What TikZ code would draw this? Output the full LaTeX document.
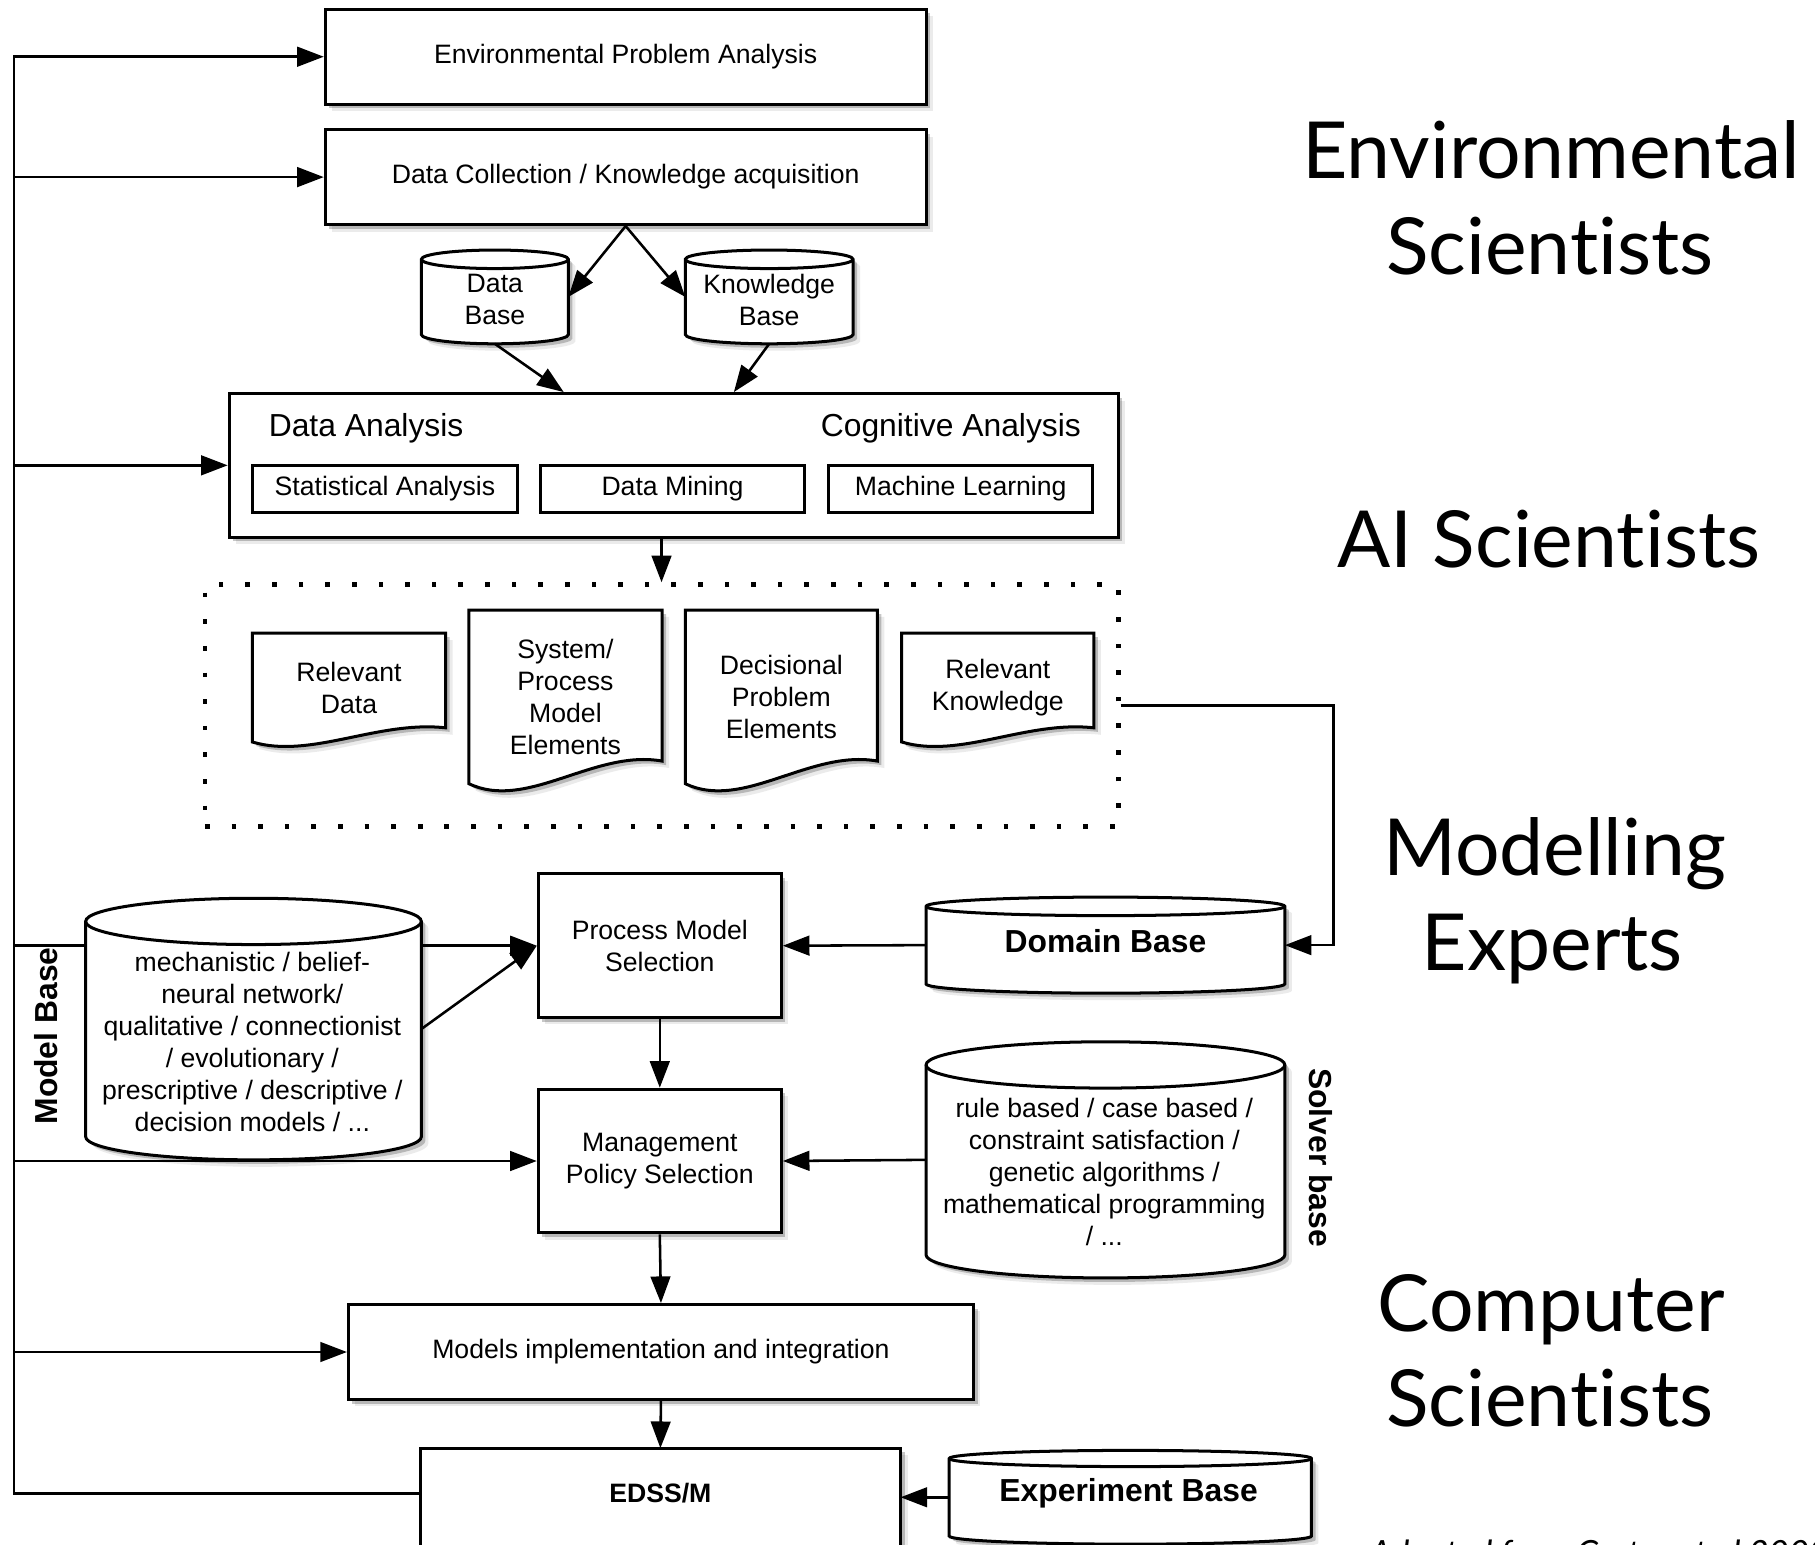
\documentclass[tikz,border=0pt]{standalone}
\usepackage{fontspec}
\setmainfont{Liberation Sans}
\newfontfamily\gill[Ligatures=NoCommon]{Lato}
\usetikzlibrary{arrows.meta,shadows,calc}
\pgfdeclarelayer{wires}
\pgfdeclarelayer{shapes}
\pgfsetlayers{wires,shapes,main}

\tikzset{
  softshadow/.style={
    drop shadow={shadow xshift=6pt,shadow yshift=-6pt,fill=black,opacity=0.08},
    drop shadow={shadow xshift=3.5pt,shadow yshift=-3.5pt,fill=black,opacity=0.22}},
  txt/.style={inner sep=0pt, align=center, font=\fontsize{23}{27.6}\selectfont},
  bigtxt/.style={inner sep=0pt, font=\fontsize{27.5}{33}\selectfont},
  boldtxt/.style={inner sep=0pt, align=center, font=\bfseries\fontsize{27.5}{33}\selectfont},
  box/.style={txt, draw, line width=2.6pt, fill=white, softshadow},
  subbox/.style={txt, draw, line width=2.3pt, fill=white},
  area/.style={txt, outer sep=0pt},
  shapeline/.style={draw, line width=2.6pt, fill=white, softshadow},
  conn/.style={line width=2.2pt},
  arr/.style={conn, -{Triangle[length=23pt,width=17pt]}},
  dotbox/.style={draw, line width=4pt, dash pattern=on 4pt off 19pt, inner sep=0pt},
  rolelabel/.style={inner sep=0pt, anchor=base, font=\gill\fontsize{68}{80}\selectfont},
}

% cylinder drawn over the area of a named node; #2 = half height of the end ellipse
\newcommand\drum[2]{%
  \begin{pgfonlayer}{shapes}
  \path[shapeline] let \p1=(#1.north west), \p2=(#1.south east), \n1={(\x2-\x1)/2} in
    (\x1,{\y1-#2}) -- (\x1,{\y2+#2})
    arc[start angle=180, end angle=360, x radius=\n1, y radius=#2]
    -- (\x2,{\y1-#2})
    arc[start angle=0, end angle=180, x radius=\n1, y radius=#2] -- cycle;
  \draw[line width=2.6pt] let \p1=(#1.north west), \p2=(#1.south east), \n1={(\x2-\x1)/2} in
    (\x1,{\y1-#2}) arc[start angle=180, end angle=360, x radius=\n1, y radius=#2];
  \end{pgfonlayer}}

% document sheet with a wavy lower edge over the area of a named node
\newcommand\docshape[1]{%
  \begin{pgfonlayer}{shapes}
  \path[shapeline] let \p1=(#1.north west), \p2=(#1.south east), \n1={\x2-\x1}, \n2={\y1-\y2} in
    (\x1,\y2) -- (\x1,\y1) -- (\x2,\y1) -- (\x2,{\y2+0.13*\n2})
    .. controls ({\x1+0.65*\n1},{\y2+0.2*\n2}) and ({\x1+0.3*\n1},{\y2-0.16*\n2}) .. (\x1,\y2) -- cycle;
  \end{pgfonlayer}}

\begin{document}
\begin{tikzpicture}[x=1pt,y=1pt]
\useasboundingbox (0,0) rectangle (1568,-1334);

% ---- problem analysis and data collection
\node[box, minimum width=519pt, minimum height=82pt] (epa) at (540.5,-49) {Environmental Problem Analysis};
\node[box, minimum width=519pt, minimum height=82pt] (dc) at (540.5,-153) {Data Collection / Knowledge acquisition};

\node[area, minimum width=127pt, minimum height=81pt] (db) at (427.5,-256.5) {};
\drum{db}{8pt}
\node[txt] (dbt) at (427.5,-259) {Data\\Base};
\node[area, minimum width=145pt, minimum height=81pt] (kb) at (664.5,-256.5) {};
\drum{kb}{8pt}
\node[txt] (kbt) at (664.5,-259) {Knowledge\\Base};

% ---- analysis
\node[box, minimum width=768pt, minimum height=124pt] (ana) at (582,-402) {};
\node[bigtxt, anchor=base west] (dat) at (232,-377) {Data Analysis};
\node[bigtxt, anchor=base east] (cog) at (934,-377) {Cognitive Analysis};
\node[subbox, minimum width=229pt, minimum height=41pt] (sa) at (332.5,-422.5) {Statistical Analysis};
\node[subbox, minimum width=228pt, minimum height=41pt] (dm) at (581,-422.5) {Data Mining};
\node[subbox, minimum width=228pt, minimum height=41pt] (ml) at (830,-422.5) {Machine Learning};

% ---- extracted elements
\node[dotbox, minimum width=789pt, minimum height=209pt] (dots) at (571.5,-609.5) {};
\node[area, minimum width=167pt, minimum height=94pt] (rd) at (301.5,-594) {Relevant\\Data};
\docshape{rd}
\node[area, minimum width=167pt, minimum height=150pt] (spm) at (488.5,-602) {System/\\Process\\Model\\Elements};
\docshape{spm}
\node[area, minimum width=166pt, minimum height=150pt] (dpe) at (675,-602) {Decisional\\Problem\\Elements};
\docshape{dpe}
\node[area, minimum width=166pt, minimum height=94pt] (rk) at (862,-594) {Relevant\\Knowledge};
\docshape{rk}

% ---- model and policy selection
\node[box, minimum width=210pt, minimum height=124pt] (pms) at (570,-817) {Process Model\\Selection};
\node[box, minimum width=210pt, minimum height=124pt] (mps) at (570,-1003) {Management\\Policy Selection};

\node[area, minimum width=310pt, minimum height=83pt] (dom) at (955,-816.5) {};
\drum{dom}{8pt}
\node[boldtxt] (domt) at (955,-813) {Domain Base};

\node[area, minimum width=310pt, minimum height=204pt] (sol) at (955,-1002) {};
\drum{sol}{20pt}
\node[txt] (solt) at (954,-1012.5) {rule based / case based /\\constraint satisfaction /\\genetic algorithms /\\mathematical programming\\/ ...};
\node[boldtxt, rotate=-90] (soll) at (1141,-1000) {Solver base};

\node[area, minimum width=290pt, minimum height=226pt] (mb) at (219,-889) {};
\drum{mb}{20pt}
\node[txt] (mbt) at (218,-900) {mechanistic / belief-\\neural network/\\qualitative / connectionist\\/ evolutionary /\\prescriptive / descriptive /\\decision models / ...};
\node[boldtxt, rotate=90] (mbl) at (40,-895) {Model Base};

% ---- implementation
\node[box, minimum width=540pt, minimum height=82pt] (mii) at (571,-1168) {Models implementation and integration};
\node[area, minimum width=415pt, minimum height=78pt, font=\bfseries\fontsize{23}{27.6}\selectfont] (edss) at (570.5,-1290) {EDSS/M};
\begin{pgfonlayer}{shapes}
\path[shapeline] ([yshift=-40pt]edss.south west) -- (edss.north west) -- (edss.north east) -- ([yshift=-40pt]edss.south east);
\end{pgfonlayer}
\node[area, minimum width=313pt, minimum height=81pt] (eb) at (976.5,-1293.5) {};
\drum{eb}{7pt}
\node[boldtxt] (ebt) at (975,-1290) {Experiment Base};

% ---- connectors
\coordinate (rail) at (12,-49);
\draw[arr] (edss.west) -| (rail |- epa.west) -- (epa.west);
\draw[arr] (rail |- dc.west) -- (dc.west);
\draw[arr] (rail |- ana.west) -- (ana.west);
\begin{pgfonlayer}{wires}
\draw[arr] (rail |- pms.west) -- (pms.west);
\end{pgfonlayer}
\draw[arr] (rail |- mps.west) -- (mps.west);
\draw[arr] (rail |- mii.west) -- (mii.west);

\draw[arr] (dc.south) -- (db.east);
\draw[arr] (dc.south) -- (kb.west);
\draw[arr] (db.south) -- ([xshift=-95pt]ana.north);
\draw[arr] (kb.south) -- ([xshift=52pt]ana.north);
\draw[arr] (ana.south -| dots.north) -- (dots.north);
\draw[arr] (dots.east) -| ([xshift=42pt]dom.east) -- (dom.east);

\draw[arr] (dom.west) -- (pms.east);
\draw[arr] (mb.east) -- (pms.west);
\draw[arr] (pms.south) -- (mps.north);
\draw[arr] (sol.west) -- (mps.east);
\draw[arr] (mps.south) -- (mii.north);
\draw[arr] (mii.south) -- (edss.north);
\draw[arr] (eb.west) -- (eb.west -| edss.east);

% ---- roles
\node[rolelabel] (es1) at (1340,-154) {Environmental};
\node[rolelabel] (es2) at (1339,-237) {Scientists};
\node[rolelabel] (ais) at (1338,-490) {AI Scientists};
\node[rolelabel] (me1) at (1343,-756) {Modelling};
\node[rolelabel] (me2) at (1341,-838) {Experts};
\node[rolelabel] (cs1) at (1340,-1150) {Computer};
\node[rolelabel] (cs2) at (1339,-1232) {Scientists};
\node[inner sep=0pt, anchor=base west, font=\gill\itshape\fontsize{30}{36}\selectfont] (src) at (1183,-1352) {Adapted from Cortes et al 2000};
\end{tikzpicture}
\end{document}
